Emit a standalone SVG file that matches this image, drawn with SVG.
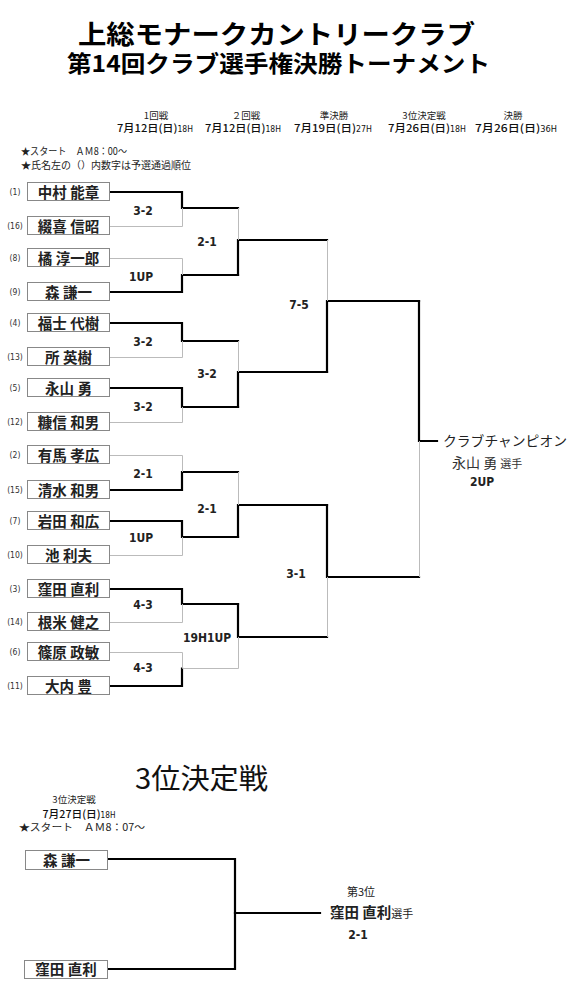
<svg xmlns="http://www.w3.org/2000/svg" width="568" height="1000" viewBox="0 0 568 1000">
<style>
.cjk{font-family:"Noto Sans CJK JP",sans-serif}
.ttl{font-family:"Noto Sans CJK JP",sans-serif;font-weight:700;fill:#000}
.hd{font-family:"Noto Sans CJK JP",sans-serif;font-size:9.5px;fill:#222;text-anchor:middle}
.dt{font-family:"Noto Sans CJK JP",sans-serif;font-size:10.5px;fill:#111;font-weight:500;text-anchor:middle}
.sm{font-family:"DejaVu Sans Condensed","Liberation Sans",sans-serif;font-size:8px}
.nt{font-family:"Noto Sans CJK JP",sans-serif;font-size:10px;fill:#222}
.box{fill:#fff;stroke:#888;stroke-width:1}
.nm{font-family:"Noto Sans CJK JP",sans-serif;font-size:14.5px;font-weight:700;fill:#222;text-anchor:middle}
.nms{font-family:"Noto Sans CJK JP",sans-serif;font-size:14.5px;font-weight:700;fill:#222;text-anchor:start}
.sd{font-family:"DejaVu Sans Condensed","Liberation Sans",sans-serif;font-size:8.5px;fill:#333;text-anchor:middle}
.sc{font-family:"DejaVu Sans Condensed","Liberation Sans",sans-serif;font-size:12px;font-weight:bold;fill:#222;text-anchor:middle}
.w{fill:none;stroke:#000;stroke-width:2.2;stroke-linejoin:miter;stroke-linecap:square}
.l{fill:none;stroke:#bbb;stroke-width:1}
</style>

<g id="title">
<text class="ttl" x="78" y="44" font-size="26" textLength="397" lengthAdjust="spacingAndGlyphs">上総モナークカントリークラブ</text>
<text class="ttl" x="67" y="72" font-size="23" textLength="423" lengthAdjust="spacingAndGlyphs">第14回クラブ選手権決勝トーナメント</text>
</g>

<g id="round-headers">
<text class="hd" x="156" y="119">1回戦</text>
<text class="dt" x="155" y="132" textLength="76" lengthAdjust="spacingAndGlyphs">7月12日(日)<tspan class="sm">18H</tspan></text>
<text class="hd" x="246" y="119">２回戦</text>
<text class="dt" x="243" y="132" textLength="76" lengthAdjust="spacingAndGlyphs">7月12日(日)<tspan class="sm">18H</tspan></text>
<text class="hd" x="334" y="119">準決勝</text>
<text class="dt" x="333" y="132" textLength="78" lengthAdjust="spacingAndGlyphs">7月19日(日)<tspan class="sm">27H</tspan></text>
<text class="hd" x="424" y="119">3位決定戦</text>
<text class="dt" x="427" y="132" textLength="78" lengthAdjust="spacingAndGlyphs">7月26日(日)<tspan class="sm">18H</tspan></text>
<text class="hd" x="513" y="119">決勝</text>
<text class="dt" x="516" y="132" textLength="82" lengthAdjust="spacingAndGlyphs">7月26日(日)<tspan class="sm">36H</tspan></text>
</g>

<g id="notes">
<text class="nt" x="21" y="155" textLength="106" lengthAdjust="spacingAndGlyphs">★スタート　ＡＭ8：00〜</text>
<text class="nt" x="21" y="169" textLength="170" lengthAdjust="spacingAndGlyphs">★氏名左の（）内数字は予選通過順位</text>
</g>

<g id="connectors">
<path class="w" d="M110 192H182V208H238"/><path class="l" d="M110 226.5H182.5V208"/>
<path class="w" d="M110 292H182V275H238"/><path class="l" d="M110 258.5H182.5V275"/>
<path class="w" d="M110 323H182V341H238"/><path class="l" d="M110 357.5H182.5V341"/>
<path class="w" d="M110 388H182V407H238"/><path class="l" d="M110 422.5H182.5V407"/>
<path class="w" d="M110 490H182V472H238"/><path class="l" d="M110 455.5H182.5V472"/>
<path class="w" d="M110 521H182V537H238"/><path class="l" d="M110 555.5H182.5V537"/>
<path class="w" d="M110 589H182V604H238"/><path class="l" d="M110 622.5H182.5V604"/>
<path class="w" d="M110 686H182V668.5"/><path class="l" d="M110 652.5H182.5V668.5H238.5"/>
<path class="w" d="M238 275V240H327"/><path class="l" d="M238.5 208V240"/>
<path class="w" d="M238 407V372H327"/><path class="l" d="M238.5 341V372"/>
<path class="w" d="M238 537V505H327"/><path class="l" d="M238.5 472V505"/>
<path class="w" d="M238 604V637H327"/><path class="l" d="M238.5 668.5V637"/>
<path class="w" d="M327 372V301H419"/><path class="l" d="M327.5 240V301"/>
<path class="w" d="M327 505V577H419"/><path class="l" d="M327.5 637V577"/>
<path class="w" d="M419 301V441H437"/><path class="l" d="M419.5 577V441"/>
<path class="w" d="M108 859H235V969H108"/>
<path class="w" d="M235 913H320"/>
</g>

<g id="scores">
<text class="sc" x="143" y="215">3-2</text>
<text class="sc" x="141" y="281">1UP</text>
<text class="sc" x="143" y="346">3-2</text>
<text class="sc" x="143" y="411">3-2</text>
<text class="sc" x="143" y="478">2-1</text>
<text class="sc" x="141" y="542">1UP</text>
<text class="sc" x="143" y="609">4-3</text>
<text class="sc" x="143" y="672">4-3</text>
<text class="sc" x="207" y="246">2-1</text>
<text class="sc" x="207" y="378">3-2</text>
<text class="sc" x="207" y="513">2-1</text>
<text class="sc" x="207" y="642">19H1UP</text>
<text class="sc" x="299" y="309">7-5</text>
<text class="sc" x="296" y="578">3-1</text>
</g>

<g id="p1"><text class="sd" x="15" y="195">(1)</text><rect class="box" x="27.5" y="182.5" width="82" height="18"/><text class="nm" x="68.5" y="197.5">中村 能章</text></g>
<g id="p16"><text class="sd" x="15" y="229">(16)</text><rect class="box" x="27.5" y="216.5" width="82" height="18"/><text class="nm" x="68.5" y="231.5">綴喜 信昭</text></g>
<g id="p8"><text class="sd" x="15" y="261">(8)</text><rect class="box" x="27.5" y="248.5" width="82" height="18"/><text class="nm" x="68.5" y="263.5">橘 淳一郎</text></g>
<g id="p9"><text class="sd" x="15" y="295">(9)</text><rect class="box" x="27.5" y="282.5" width="82" height="18"/><text class="nm" x="68.5" y="297.5">森 謙一</text></g>
<g id="p4"><text class="sd" x="15" y="326">(4)</text><rect class="box" x="27.5" y="313.5" width="82" height="18"/><text class="nm" x="68.5" y="328.5">福士 代樹</text></g>
<g id="p13"><text class="sd" x="15" y="360">(13)</text><rect class="box" x="27.5" y="347.5" width="82" height="18"/><text class="nm" x="68.5" y="362.5">所 英樹</text></g>
<g id="p5"><text class="sd" x="15" y="391">(5)</text><rect class="box" x="27.5" y="378.5" width="82" height="18"/><text class="nm" x="68.5" y="393.5">永山 勇</text></g>
<g id="p12"><text class="sd" x="15" y="425">(12)</text><rect class="box" x="27.5" y="412.5" width="82" height="18"/><text class="nm" x="68.5" y="427.5">糠信 和男</text></g>
<g id="p2"><text class="sd" x="15" y="458">(2)</text><rect class="box" x="27.5" y="445.5" width="82" height="18"/><text class="nm" x="68.5" y="460.5">有馬 孝広</text></g>
<g id="p15"><text class="sd" x="15" y="493">(15)</text><rect class="box" x="27.5" y="480.5" width="82" height="18"/><text class="nm" x="68.5" y="495.5">清水 和男</text></g>
<g id="p7"><text class="sd" x="15" y="524">(7)</text><rect class="box" x="27.5" y="511.5" width="82" height="18"/><text class="nm" x="68.5" y="526.5">岩田 和広</text></g>
<g id="p10"><text class="sd" x="15" y="558">(10)</text><rect class="box" x="27.5" y="545.5" width="82" height="18"/><text class="nm" x="68.5" y="560.5">池 利夫</text></g>
<g id="p3"><text class="sd" x="15" y="592">(3)</text><rect class="box" x="27.5" y="579.5" width="82" height="18"/><text class="nm" x="68.5" y="594.5">窪田 直利</text></g>
<g id="p14"><text class="sd" x="15" y="625">(14)</text><rect class="box" x="27.5" y="612.5" width="82" height="18"/><text class="nm" x="68.5" y="627.5">根米 健之</text></g>
<g id="p6"><text class="sd" x="15" y="655">(6)</text><rect class="box" x="27.5" y="642.5" width="82" height="18"/><text class="nm" x="68.5" y="657.5">篠原 政敏</text></g>
<g id="p11"><text class="sd" x="15" y="689">(11)</text><rect class="box" x="27.5" y="676.5" width="82" height="18"/><text class="nm" x="68.5" y="691.5">大内 豊</text></g>

<g id="champion">
<text class="cjk" x="443" y="446" font-size="13.5" fill="#222" textLength="124" lengthAdjust="spacingAndGlyphs">クラブチャンピオン</text>
<text class="cjk" x="452" y="468" font-size="14" fill="#333">永山 勇 <tspan font-size="11">選手</tspan></text>
<text class="sc" x="482" y="486" font-size="11">2UP</text>
</g>

<g id="third-title">
<text class="cjk" x="135" y="789" font-size="28" fill="#111" textLength="133" lengthAdjust="spacingAndGlyphs">3位決定戦</text>
<text class="hd" x="74" y="803" font-size="9">3位決定戦</text>
<text class="dt" x="79" y="818" textLength="73" lengthAdjust="spacingAndGlyphs">7月27日(日)<tspan class="sm">18H</tspan></text>
<text class="nt" x="19" y="831" textLength="126" lengthAdjust="spacingAndGlyphs">★スタート　ＡＭ8：07〜</text>
</g>

<g id="t1"><rect class="box" x="25.5" y="850.5" width="82" height="19"/><text class="nm" x="66.5" y="865.5">森 謙一</text></g>
<g id="t2"><rect class="box" x="24.5" y="960.5" width="83" height="18"/><text class="nm" x="66" y="975">窪田 直利</text></g>

<g id="third-result">
<text class="cjk" x="361" y="896" font-size="11" fill="#222" text-anchor="middle">第3位</text>
<text class="nms" x="330" y="918">窪田 直利<tspan font-size="11" font-weight="400">選手</tspan></text>
<text class="sc" x="358" y="939" font-size="11">2-1</text>
</g>
</svg>
